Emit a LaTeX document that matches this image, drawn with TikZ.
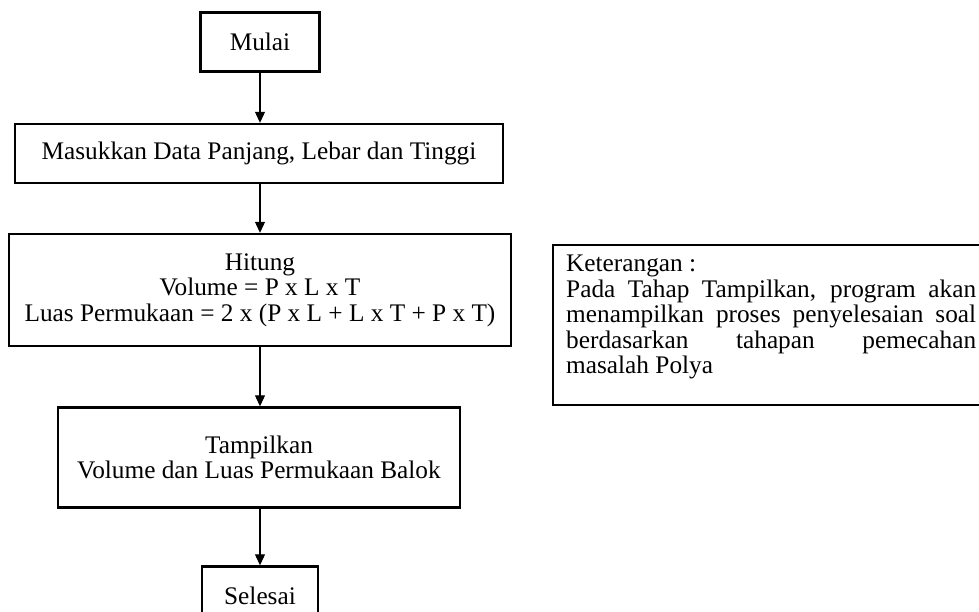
\documentclass[tikz,border=0pt]{standalone}
\usepackage{fontspec}
\setmainfont{Liberation Serif}
\usetikzlibrary{arrows.meta}
\begin{document}
\begin{tikzpicture}[x=1pt,y=-1pt,
  box/.style={draw=black, line width=2.4pt, align=center, inner sep=0pt,
    font=\fontsize{25.3}{25.5}\selectfont},
  flow/.style={line width=1.1pt, -{Triangle[width=10pt,length=11pt]}}]
\useasboundingbox (0,0) rectangle (979,611);
\clip (0,0) rectangle (979,611);
\node[box, minimum width=119pt, minimum height=59pt] (mulai) at (260,42) {Mulai};
\node[box, minimum width=488pt, minimum height=59pt] (input) at (259,153.5) {Masukkan Data Panjang, Lebar dan Tinggi};
\node[box, minimum width=502pt, minimum height=112pt] (hitung) at (260,290) {Hitung\\Volume = P x L x T\\Luas Permukaan = 2 x (P x L + L x T + P x T)};
\node[box, minimum width=402pt, minimum height=100pt] (tampil) at (259,457.5) {Tampilkan\\Volume dan Luas Permukaan Balok};
\node[box, minimum width=116pt, minimum height=59pt] (selesai) at (260,596) {Selesai};
\node[box, anchor=north west, inner xsep=13pt, inner ysep=0pt] (ket) at (552,244)
  {\begin{minipage}[c][160pt][t]{410pt}\fontsize{25.3}{25.5}\selectfont\vspace*{10pt}
   Keterangan :\\
   Pada Tahap Tampilkan, program akan\linebreak menampilkan proses penyelesaian soal\linebreak berdasarkan tahapan pemecahan\linebreak masalah Polya
   \end{minipage}};
\draw[flow] (mulai.south) -- (mulai.south |- input.north);
\draw[flow] (mulai.south |- input.south) -- (mulai.south |- hitung.north);
\draw[flow] (mulai.south |- hitung.south) -- (mulai.south |- tampil.north);
\draw[flow] (mulai.south |- tampil.south) -- (mulai.south |- selesai.north);
\end{tikzpicture}
\end{document}
